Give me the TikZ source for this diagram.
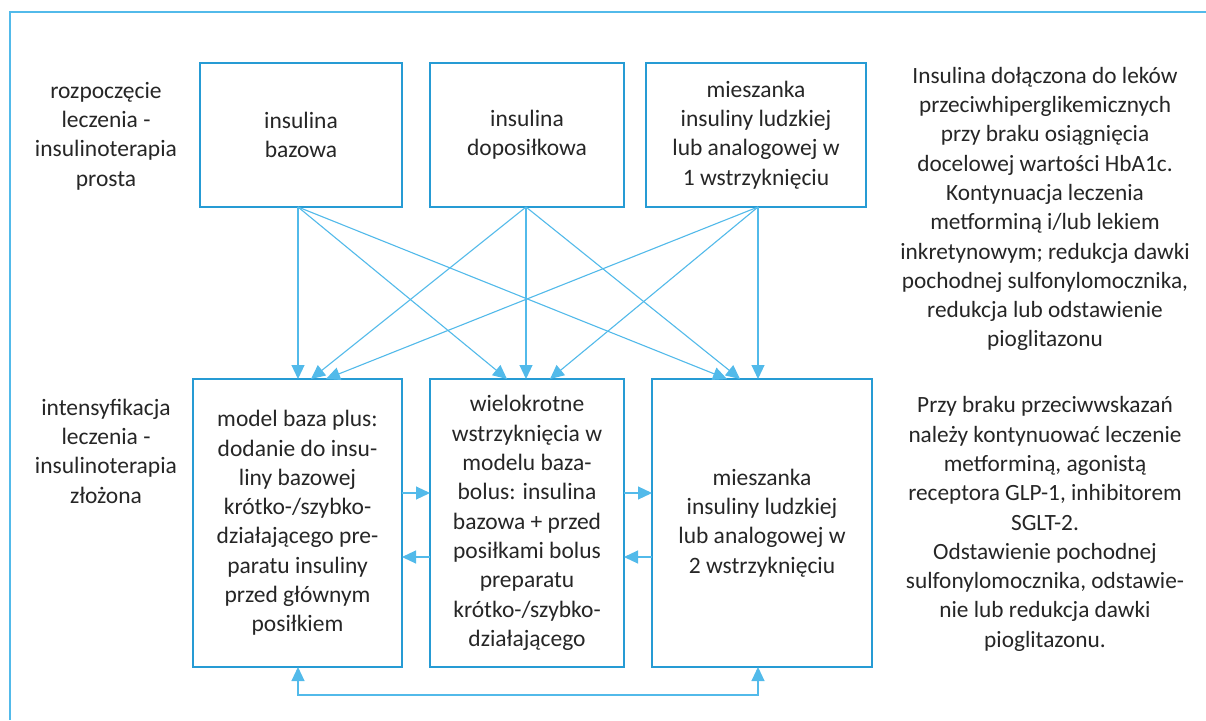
\documentclass[tikz,border=0pt]{standalone}
\usepackage{fontspec}
\setmainfont{Carlito}
\usetikzlibrary{arrows.meta,calc}
\definecolor{boxblue}{RGB}{38,155,212}
\definecolor{arrblue}{RGB}{82,186,234}
\definecolor{txt}{RGB}{38,38,38}
\begin{document}
\begin{tikzpicture}[x=1pt,y=-1pt,
  every node/.style={inner sep=0pt,outer sep=0pt,text=txt},
  boxnode/.style={draw=boxblue,line width=1.4pt,align=center,
    font=\fontsize{23.5}{29.3}\selectfont},
  lbl/.style={align=center,font=\fontsize{23.5}{29.3}\selectfont},
  rlbl/.style={align=center,font=\fontsize{23.3}{29.3}\selectfont},
  arr/.style={draw=arrblue,line width=1.1pt,-{Triangle[length=14pt,width=13pt]}},
  darr/.style={draw=arrblue,line width=1.1pt,{Triangle[length=14pt,width=13pt]}-{Triangle[length=14pt,width=13pt]}}]
\useasboundingbox (0,0) rectangle (1206,720);
\fill[white] (0,0) rectangle (1206,720);
\draw[arrblue,line width=1.4pt] (10,720) -- (10,12) -- (1206,12);

% top boxes
\node[boxnode,minimum width=202pt,minimum height=144pt] (b1) at (301,135) {insulina\\bazowa};
\node[boxnode,minimum width=194pt,minimum height=144pt] (b2) at (527,135) {insulina\\doposiłkowa};
\node[boxnode,minimum width=220pt,minimum height=144pt] (b3) at (756,135) {mieszanka\\insuliny ludzkiej\\lub analogowej w\\1 wstrzyknięciu};

% bottom boxes
\node[boxnode,minimum width=209pt,minimum height=288pt] (b4) at (297.5,523) {model baza plus:\\dodanie do insu-\\liny bazowej\\krótko-/szybko-\\działającego pre-\\paratu insuliny\\przed głównym\\posiłkiem};
\node[boxnode,minimum width=194pt,minimum height=288pt] (b5) at (527,523) {wielokrotne\\wstrzyknięcia w\\modelu baza-\\bolus: insulina\\bazowa + przed\\posiłkami bolus\\preparatu\\krótko-/szybko-\\działającego};
\node[boxnode,minimum width=220pt,minimum height=288pt] (b6) at (762,523) {mieszanka\\insuliny ludzkiej\\lub analogowej w\\2 wstrzyknięciu};

% side labels
\node[lbl] (l1) at (106,136) {rozpoczęcie\\leczenia -\\insulinoterapia\\prosta};
\node[lbl] (l2) at (106,451) {intensyfikacja\\leczenia -\\insulinoterapia\\złożona};
\node[rlbl] (r1) at (1045,209) {Insulina dołączona do leków\\przeciwhiperglikemicznych\\przy braku osiągnięcia\\docelowej wartości HbA1c.\\Kontynuacja leczenia\\metforminą i/lub lekiem\\inkretynowym; redukcja dawki\\pochodnej sulfonylomocznika,\\redukcja lub odstawienie\\pioglitazonu};
\node[rlbl] (r2) at (1045,524) {Przy braku przeciwwskazań\\należy kontynuować leczenie\\metforminą, agonistą\\receptora GLP-1, inhibitorem\\SGLT-2.\\Odstawienie pochodnej\\sulfonylomocznika, odstawie-\\nie lub redukcja dawki\\pioglitazonu.};

% sources and targets
\coordinate (s1) at (298,207);
\coordinate (s2) at (526,207);
\coordinate (s3) at (758,207);
\coordinate (t41) at (298,379);
\coordinate (t42) at (311,379);
\coordinate (t43) at (326,379);
\coordinate (t51) at (507,379);
\coordinate (t52) at (526,379);
\coordinate (t53) at (550,379);
\coordinate (t61) at (727,379);
\coordinate (t62) at (740,379);
\coordinate (t63) at (758,379);

\draw[arr] (s1) -- (t41);
\draw[arr] (s1) -- (t51);
\draw[arr] (s1) -- (t61);
\draw[arr] (s2) -- (t42);
\draw[arr] (s2) -- (t52);
\draw[arr] (s2) -- (t62);
\draw[arr] (s3) -- (t43);
\draw[arr] (s3) -- (t53);
\draw[arr] (s3) -- (t63);

% horizontal arrows
\draw[arr] (b4.east |- 0,493) -- (b5.west |- 0,493);
\draw[arr] (b5.west |- 0,557) -- (b4.east |- 0,557);
\draw[arr] (b5.east |- 0,493) -- (b6.west |- 0,493);
\draw[arr] (b6.west |- 0,557) -- (b5.east |- 0,557);

% bottom loop
\coordinate (u4) at (298,667);
\coordinate (u6) at (758,667);
\draw[darr] (u4) -- (298,695) -- (758,695) -- (u6);
\end{tikzpicture}
\end{document}
